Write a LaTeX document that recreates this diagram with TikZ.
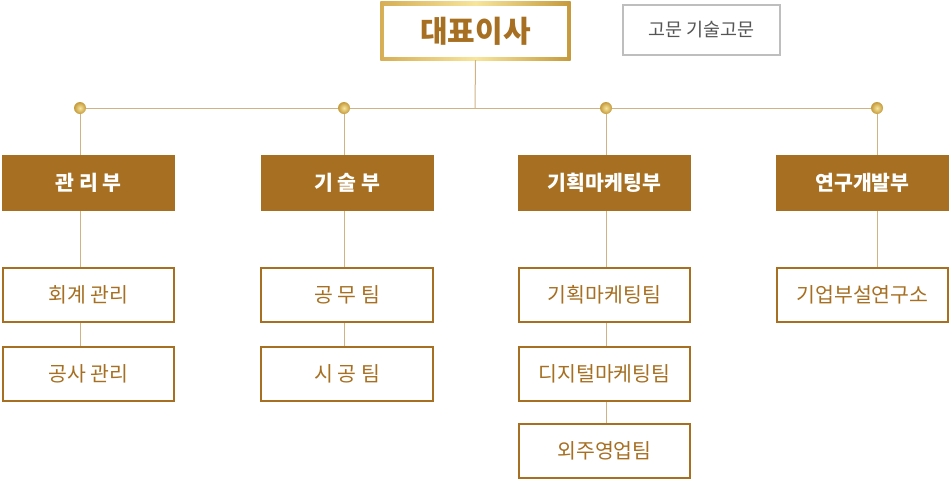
\documentclass[tikz,border=0pt]{standalone}
\usepackage{fontspec}
\setmainfont{Noto Sans CJK KR}
\usetikzlibrary{backgrounds}
\definecolor{brown1}{HTML}{A66F21}
\definecolor{tan1}{HTML}{CFB383}
\definecolor{gold1}{HTML}{D6AE55}
\definecolor{gold2}{HTML}{F7E59C}
\definecolor{gold3}{HTML}{C59A3B}
\definecolor{graybd}{HTML}{BEBEBE}
\definecolor{graytx}{HTML}{555555}
\tikzset{
  conn/.style={draw=tan1, line width=1pt},
  dept/.style={fill=brown1, text=white, minimum width=173pt, minimum height=56pt, inner sep=0pt, font=\fontsize{20.5}{22}\selectfont\bfseries},
  subb/.style={draw=brown1, fill=white, line width=1.9pt, text=brown1, minimum width=171.5pt, minimum height=54.5pt, inner sep=0pt, font=\fontsize{20.5}{22}\selectfont},
  ceob/.style={fill=white, text=brown1, minimum width=183pt, minimum height=51pt, inner sep=0pt, font=\fontsize{30}{32}\selectfont\bfseries},
  advb/.style={draw=graybd, line width=1.8pt, fill=white, text=graytx, minimum width=157pt, minimum height=50pt, inner sep=0pt, font=\fontsize{18.5}{20}\selectfont},
  dotn/.style={circle, minimum size=12pt, inner sep=0pt, shading=radial, inner color=gold2, outer color=gold3},
}
\begin{document}
\begin{tikzpicture}[x=1pt,y=-1pt]
\useasboundingbox (0,0) rectangle (950,480);
% top
\node[ceob] (ceo) at (475.5,31) {대표이사};
\begin{scope}[on background layer]
\shade[left color=gold1, right color=gold3, middle color=gold2]
  ([xshift=-3.5pt,yshift=-3.5pt]ceo.south west) rectangle ([xshift=3.5pt,yshift=3.5pt]ceo.north east);
\end{scope}
\node[advb] (adv) at (701.5,30) {고문 기술고문};
\coordinate (bar) at (475,108);
\coordinate (barL) at (80,108);
\coordinate (barR) at (877,108);
\coordinate (ceob) at ([yshift=-3.5pt]ceo.south);
\draw[conn] (ceob) -- (bar);
\draw[conn] (barL) -- (barR);
% departments
\node[dept] (d1) at (88.5,183) {관 리 부};
\node[dept] (d2) at (347,183) {기 술 부};
\node[dept] (d3) at (604.5,183) {기획마케팅부};
\node[dept] (d4) at (862.5,183) {연구개발부};
% sub boxes
\node[subb] (s11) at (88.5,295) {회계 관리};
\node[subb] (s12) at (88.5,374) {공사 관리};
\node[subb] (s21) at (347,295) {공 무 팀};
\node[subb] (s22) at (347,374) {시 공 팀};
\node[subb] (s31) at (604.5,295) {기획마케팅팀};
\node[subb] (s32) at (604.5,374) {디지털마케팅팀};
\node[subb] (s33) at (604.5,451) {외주영업팀};
\node[subb] (s41) at (862.5,295) {기업부설연구소};
% dots
\node[dotn] (p1) at (80,108) {};
\node[dotn] (p2) at (344,108) {};
\node[dotn] (p3) at (606,108) {};
\node[dotn] (p4) at (877,108) {};
% vertical connectors
\draw[conn] (p1) -- (p1 |- d1.north);
\draw[conn] (p1 |- d1.south) -- (p1 |- s11.north);
\draw[conn] (p1 |- s11.south) -- (p1 |- s12.north);
\draw[conn] (p2) -- (p2 |- d2.north);
\draw[conn] (p2 |- d2.south) -- (p2 |- s21.north);
\draw[conn] (p2 |- s21.south) -- (p2 |- s22.north);
\draw[conn] (p3) -- (p3 |- d3.north);
\draw[conn] (p3 |- d3.south) -- (p3 |- s31.north);
\draw[conn] (p3 |- s31.south) -- (p3 |- s32.north);
\draw[conn] (p3 |- s32.south) -- (p3 |- s33.north);
\draw[conn] (p4) -- (p4 |- d4.north);
\draw[conn] (p4 |- d4.south) -- (p4 |- s41.north);
\end{tikzpicture}
\end{document}
